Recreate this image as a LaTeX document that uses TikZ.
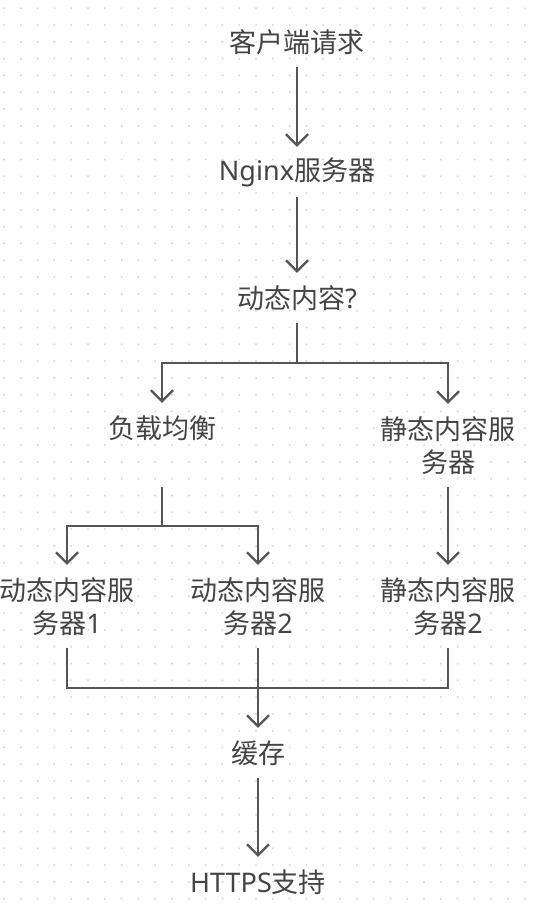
\documentclass[tikz,border=0pt]{standalone}
\usepackage{fontspec}
\setmainfont{Noto Sans CJK SC}[Script=CJK, Language=Chinese Simplified]
\newfontfamily\en{Noto Sans}
\usetikzlibrary{arrows.meta}

\definecolor{linegray}{RGB}{85,85,85}
\definecolor{textgray}{RGB}{68,68,68}
\definecolor{dotgray}{RGB}{215,215,215}

\tikzset{
    flowtext/.style={text=textgray, font=\fontsize{27}{33}\selectfont, align=center,
        inner xsep=0pt, inner ysep=0pt, minimum height=50pt},
    twoline/.style={minimum height=83pt},
    flowline/.style={draw=linegray, line width=2.2pt},
    flowarrow/.style={flowline, -{Straight Barb[length=11pt,width=22pt,line width=2.2pt]}}
}

\begin{document}
\begin{tikzpicture}[x=1pt, y=-1pt]

    %% Background with dot grid
    \fill[white] (0,0) rectangle (538,904);
    \foreach \i in {0,...,31} {
        \foreach \j in {0,...,53} {
            \fill[dotgray] (4+16.8*\i, 8.3+16.8*\j) circle(1.1);
        }
    }
    \useasboundingbox (0,0) rectangle (538,904);

    %% Main column
    \node[flowtext] (client) at (297,42) {客户端请求};
    \node[flowtext] (nginx) at (297,172) {{\en Nginx}服务器};
    \node[flowtext] (dyn) at (297,298) {动态内容{\en ?}};

    % Branches
    \node[flowtext] (lb) at (162,428) {负载均衡};
    \node[flowtext, twoline] (static) at (448,445.5) {静态内容服\\务器};

    % Servers
    \node[flowtext, twoline] (dyn1) at (67,606.5) {动态内容服\\务器{\en 1}};
    \node[flowtext, twoline] (dyn2) at (258,606.5) {动态内容服\\务器{\en 2}};
    \node[flowtext, twoline] (static2) at (448,606.5) {静态内容服\\务器{\en 2}};

    % Cache and HTTPS
    \node[flowtext] (cache) at (258,753) {缓存};
    \node[flowtext] (https) at (258,882) {{\en HTTPS}支持};

    %% Connectors
    \draw[flowarrow] (client) -- (nginx);
    \draw[flowarrow] (nginx) -- (dyn);

    % Split after dynamic check
    \draw[flowline] (dyn.south) -- ++(0,40) coordinate (split);
    \draw[flowarrow] (split) -| (lb.north);
    \draw[flowarrow] (split) -| (static.north);

    % Load balancer to dynamic servers
    \coordinate (lbOut) at (lb.south |- static.south);
    \draw[flowline] (lbOut) -- ++(0,39) coordinate (lbSplit);
    \draw[flowarrow] (lbSplit) -| (dyn1.north);
    \draw[flowarrow] (lbSplit) -| (dyn2.north);
    \draw[flowarrow] (static.south) -- (static2.north);

    % Merge into cache
    \draw[flowline] (dyn1.south) -- ++(0,40) coordinate (merge) -- (merge -| static2.south) -- (static2.south);
    \draw[flowarrow] (dyn2.south) -- (cache.north);
    \draw[flowarrow] (cache) -- (https);

\end{tikzpicture}
\end{document}
